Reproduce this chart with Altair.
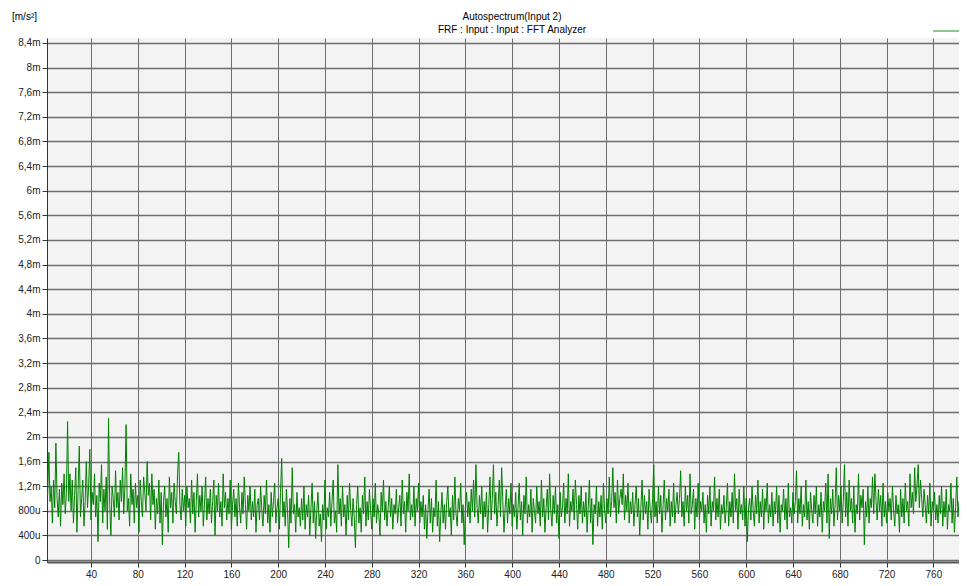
import altair as alt
import pandas as pd

# Autospectrum level, in units of 0.01 m (i.e. 10u) per 1 Hz bin, starting at 3 Hz
levels_c = [
    105,175,95,120,60,130,85,190,100,70,115,55,125,90,140,75,110,225,95,140,
    80,130,60,105,150,45,115,185,70,100,130,55,95,160,85,120,180,65,110,90,
    140,70,105,30,125,95,155,60,115,80,135,50,230,90,40,120,100,70,145,85,
    110,65,130,95,150,75,120,220,80,100,55,140,90,115,60,125,85,105,45,130,
    95,70,135,110,80,160,105,125,65,140,90,115,50,100,75,130,60,110,25,95,
    120,70,100,45,135,85,110,60,125,95,75,140,175,90,65,115,80,105,55,120,
    85,100,60,130,75,110,45,95,140,70,105,80,120,55,90,135,65,100,75,115,
    60,95,130,40,105,80,125,70,95,55,140,85,110,65,100,75,130,50,90,115,
    70,100,55,125,85,60,110,75,135,90,50,105,80,120,65,95,70,115,45,90,
    100,65,120,80,55,105,75,130,60,90,45,110,70,95,125,60,85,100,50,110,
    165,70,95,55,115,80,20,100,60,150,75,90,45,110,70,85,55,100,65,120,
    50,90,70,105,40,85,125,60,95,35,80,110,55,75,30,90,65,130,50,85,
    70,110,55,95,130,60,80,45,155,75,100,55,120,70,90,40,105,65,125,80,
    55,100,70,20,90,120,60,85,45,105,75,135,55,95,65,115,80,50,100,70,
    125,60,90,75,40,110,80,130,65,95,55,85,120,70,100,50,90,75,115,60,
    85,105,55,130,75,95,45,110,80,140,65,90,70,120,55,100,80,125,60,95,
    70,105,50,90,35,80,115,60,100,45,85,70,130,55,95,30,75,110,60,90,
    50,95,120,70,85,40,105,65,135,75,55,100,80,125,60,90,25,85,110,70,
    95,60,115,80,130,70,155,85,60,105,75,120,50,95,70,110,45,90,135,65,
    100,155,75,110,55,90,130,70,150,95,45,85,115,60,100,75,125,55,90,70,
    110,50,85,125,65,95,40,105,75,135,60,90,70,115,45,100,80,60,120,75,
    95,55,130,70,100,45,85,115,65,140,80,55,105,75,120,60,90,35,110,70,
    85,125,60,100,75,140,55,95,80,115,65,130,90,50,105,75,120,60,95,70,
    110,45,85,130,60,100,25,90,75,120,55,95,70,105,50,125,80,60,100,75,
    135,70,95,150,85,110,60,130,75,100,115,90,140,65,105,80,125,60,95,75,
    110,55,90,120,70,100,40,85,130,65,105,75,95,50,115,80,60,100,155,70,
    95,60,120,75,105,45,90,130,65,100,80,115,55,95,70,125,60,90,110,75,
    100,145,70,95,55,120,80,105,60,140,75,90,115,50,100,70,125,65,95,80,
    110,60,90,45,105,75,120,55,95,80,135,65,100,70,115,50,90,75,105,60,
    85,125,55,95,70,110,60,140,80,100,50,115,75,90,65,120,55,100,30,85,
    100,65,120,80,55,105,75,130,60,95,70,115,50,100,80,125,60,90,70,110,
    55,95,75,120,60,105,45,90,80,115,65,100,50,125,70,85,60,110,75,95,
    145,60,100,75,120,55,90,70,130,65,95,50,110,80,60,105,75,120,55,90,
    70,110,45,95,80,125,60,140,35,100,75,115,55,90,150,65,105,80,120,60,
    95,155,70,110,55,130,80,100,60,120,45,90,75,140,65,105,85,115,25,95,
    70,120,60,100,85,135,75,140,95,65,115,80,105,55,125,70,95,60,110,80,
    100,65,120,80,55,105,75,90,45,115,70,100,60,125,80,95,55,140,85,110,
    75,150,95,120,155,85,130,100,70,115,90,60,105,75,125,55,95,80,110,65,
    90,60,105,75,120,55,95,70,115,50,90,80,125,60,100,45,85,135,70,95,
    60,110,75,120,55,95,70,
]
start_hz = 3
freq_hz = [start_hz + i for i in range(len(levels_c))]
level_m = [v / 100 for v in levels_c]

x_ticks = [40 * k for k in range(1, 20)]
y_ticks = [round(0.4 * k, 1) for k in range(0, 22)]

title_main = "Autospectrum(Input 2)"
title_sub = "FRF : Input : Input : FFT Analyzer"
y_unit = "[m/s\u00b2]"
x_unit = "[Hz]"

df = pd.DataFrame({"f": freq_hz, "a": level_m})

W, H = 912, 524
FONT = "Liberation Sans"

y_label_expr = ("datum.value == 0 ? '0' : (datum.value < 1 ? "
                "format(datum.value*1000, '.0f') + 'u' : "
                "replace(format(datum.value, '.1~f'), '.', ',') + 'm')")

line = alt.Chart(df).mark_line(color="#008000", strokeWidth=1, clip=True).encode(
    x=alt.X("f:Q", scale=alt.Scale(domain=[2.4, 781.9], nice=False, zero=False),
            axis=alt.Axis(values=x_ticks, grid=True, gridColor="#6e6e6e", gridWidth=1,
                          tickSize=5, tickColor="#333", domainColor="#555", domainWidth=2,
                          labelFont=FONT, labelFontSize=10, labelColor="#222", labelPadding=2,
                          title=x_unit, titleFont=FONT, titleFontSize=10,
                          titleFontWeight="normal", titlePadding=-2)),
    y=alt.Y("a:Q", scale=alt.Scale(domain=[-0.032, 8.48], nice=False, zero=False),
            axis=alt.Axis(values=y_ticks, labelExpr=y_label_expr, grid=True,
                          gridColor="#6e6e6e", gridWidth=1.3, tickSize=5, tickColor="#333",
                          domainColor="#333", labelFont=FONT, labelFontSize=10,
                          labelColor="#222", labelPadding=2, title=None)),
)

texts = pd.DataFrame({"t": [title_main, title_sub]})
t1 = alt.Chart(pd.DataFrame({"t": [title_main]})).mark_text(
    font=FONT, fontSize=10, color="#000", align="center", baseline="middle"
).encode(text="t:N", x=alt.value(465), y=alt.value(-21))
t2 = alt.Chart(pd.DataFrame({"t": [title_sub]})).mark_text(
    font=FONT, fontSize=10, color="#000", align="center", baseline="middle"
).encode(text="t:N", x=alt.value(465), y=alt.value(-8))
t3 = alt.Chart(pd.DataFrame({"t": [y_unit]})).mark_text(
    font=FONT, fontSize=10, color="#000", align="left", baseline="middle"
).encode(text="t:N", x=alt.value(-35), y=alt.value(-21))
legend_line = alt.Chart(pd.DataFrame({"t": [title_main]})).mark_rule(
    color="#8cc88c", strokeWidth=2
).encode(x=alt.value(886), x2=alt.value(912), y=alt.value(-7))

chart = alt.layer(line, t1, t2, t3, legend_line).properties(
    width=W, height=H,
    autosize=alt.AutoSizeParams(type="none"),
    padding={"left": 39, "top": 30, "right": 0, "bottom": 16},
    background="white",
).configure_view(fill="#f3f3f3", stroke=None)

chart.save("out.html", embed_options={"renderer": "svg", "actions": False})
